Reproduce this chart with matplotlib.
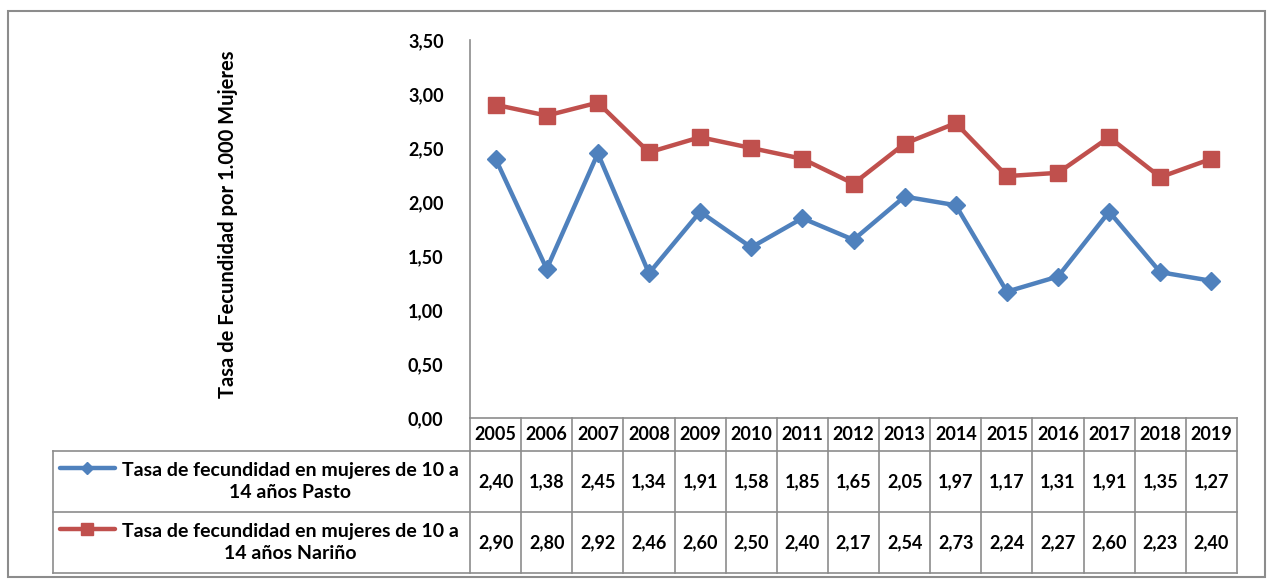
import matplotlib
matplotlib.use("Agg")
import matplotlib.pyplot as plt
from matplotlib.transforms import blended_transform_factory
from matplotlib.lines import Line2D
from matplotlib.patches import Rectangle

# data
years = ["2005", "2006", "2007", "2008", "2009", "2010", "2011", "2012",
         "2013", "2014", "2015", "2016", "2017", "2018", "2019"]
pasto = [2.40, 1.38, 2.45, 1.34, 1.91, 1.58, 1.85, 1.65, 2.05, 1.97, 1.17, 1.31, 1.91, 1.35, 1.27]
narino = [2.90, 2.80, 2.92, 2.46, 2.60, 2.50, 2.40, 2.17, 2.54, 2.73, 2.24, 2.27, 2.60, 2.23, 2.40]
series_labels = ["Tasa de fecundidad en mujeres de 10 a\n14 años Pasto",
                 "Tasa de fecundidad en mujeres de 10 a\n14 años Nariño"]
y_ticks = [0.0, 0.5, 1.0, 1.5, 2.0, 2.5, 3.0, 3.5]
y_label = "Tasa de Fecundidad por 1.000 Mujeres"

BLUE = "#4F81BD"
RED = "#C0504D"
GRID = "#8C8C8C"
NUM_FS = 13
LAB_FS = 14

plt.rcParams['font.family'] = ['Lato', 'DejaVu Sans']
plt.rcParams['font.weight'] = 'bold'

W, H = 1271, 581
fig = plt.figure(figsize=(W / 100, H / 100), dpi=100)

def fx(px):
    return px / W

def fy(py):
    return 1 - py / H

# plot area in pixel terms
left, right, top, bottom = 470, 1237, 40, 418
ax = fig.add_axes([fx(left), fy(bottom), fx(right) - fx(left), fy(top) - fy(bottom)])

x = list(range(len(years)))
ax.plot(x, pasto, color=BLUE, linewidth=3.2, marker='D', markersize=9, label=series_labels[0])
ax.plot(x, narino, color=RED, linewidth=3.2, marker='s', markersize=11, label=series_labels[1])

ax.set_xlim(-0.5, len(years) - 0.5)
ax.set_ylim(0, 3.5)
ax.set_yticks(y_ticks)
ax.set_yticklabels([f"{v:.2f}".replace('.', ',') for v in y_ticks], fontsize=NUM_FS, fontweight='bold')
ax.tick_params(axis='y', length=0, pad=19)
ax.set_xticks([])
for s in ['top', 'right', 'bottom']:
    ax.spines[s].set_visible(False)
ax.spines['left'].set_color(GRID)
ax.spines['left'].set_linewidth(1.2)

fig.text(fx(228), fy(224), y_label, rotation=90, ha='center', va='center',
         fontsize=14.5, fontweight='bold')

# data table under the plot
plot_h = bottom - top
def ay(py):
    return (bottom - py) / plot_h

def axx(px):
    return (px - left) / (right - left)

tr = blended_transform_factory(ax.transData, ax.transAxes)
row_y = [418, 451, 512, 573]
label_left = 53
lkw = dict(color=GRID, linewidth=1.2, clip_on=False)

# horizontal lines
ax.add_line(Line2D([0, 1], [ay(row_y[0])] * 2, transform=ax.transAxes, **lkw))
for py in row_y[1:]:
    ax.add_line(Line2D([axx(label_left), 1], [ay(py)] * 2, transform=ax.transAxes, **lkw))
# vertical lines
ax.add_line(Line2D([axx(label_left)] * 2, [ay(row_y[1]), ay(row_y[3])], transform=ax.transAxes, **lkw))
for i in range(len(years) + 1):
    xi = i - 0.5
    ax.add_line(Line2D([xi, xi], [ay(row_y[0]), ay(row_y[3])], transform=tr, **lkw))

# year header and values
for i, yr in enumerate(years):
    ax.text(i, ay((row_y[0] + row_y[1]) / 2), yr, transform=tr, ha='center', va='center',
            fontsize=NUM_FS, fontweight='bold')
    ax.text(i, ay((row_y[1] + row_y[2]) / 2), f"{pasto[i]:.2f}".replace('.', ','), transform=tr,
            ha='center', va='center', fontsize=NUM_FS, fontweight='bold')
    ax.text(i, ay((row_y[2] + row_y[3]) / 2), f"{narino[i]:.2f}".replace('.', ','), transform=tr,
            ha='center', va='center', fontsize=NUM_FS, fontweight='bold')

# row labels with legend keys
for r, (lab, col, mk, ms) in enumerate([(series_labels[0], BLUE, 'D', 6), (series_labels[1], RED, 's', 9)]):
    top_py, bot_py = row_y[r + 1], row_y[r + 2]
    mid = (top_py + bot_py) / 2
    key_y = top_py + 17
    ax.add_line(Line2D([axx(60), axx(115)], [ay(key_y)] * 2, transform=ax.transAxes,
                       color=col, linewidth=3.2, solid_capstyle='round', clip_on=False))
    ax.add_line(Line2D([axx(87)], [ay(key_y)], transform=ax.transAxes, color=col,
                       marker=mk, markersize=ms, linestyle='none', clip_on=False))
    ax.text(axx(290), ay(mid), lab, transform=ax.transAxes, ha='center', va='center',
            fontsize=LAB_FS, fontweight='bold', linespacing=1.3)

# outer chart border
fig.add_artist(Rectangle((fx(8), fy(577)), fx(1265) - fx(8), fy(11) - fy(577),
                         transform=fig.transFigure, fill=False, edgecolor=GRID, linewidth=1.5))

fig.savefig("out.png", dpi=100)
